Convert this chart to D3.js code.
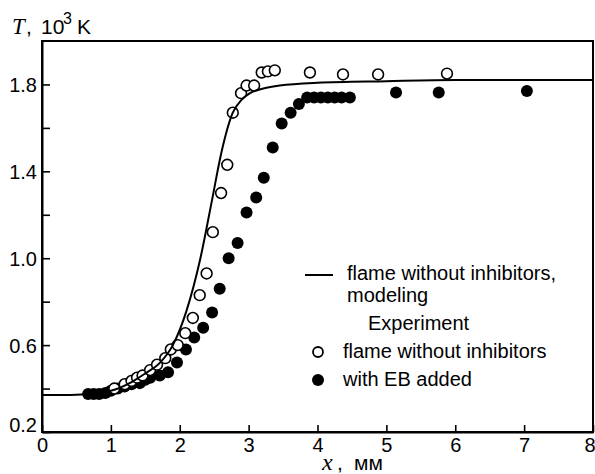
<!DOCTYPE html>
<html>
<head>
<meta charset="utf-8">
<script src="https://cdn.jsdelivr.net/npm/d3@7"></script>
<style>
  body { margin: 0; background: #fff; }
  svg { display: block; }
  text { font-family: 'Liberation Sans', Arial, sans-serif; fill: #000; }
</style>
</head>
<body>
<svg width="595" height="474"></svg>
<script>
// modeling curve, flame without inhibitors
const modelX = [0, 0.5, 1.0, 1.3, 1.5, 1.7, 1.9, 2.1, 2.3, 2.47, 2.6, 2.77, 2.9, 3.02, 3.2, 3.45, 4.0, 5.0, 6.0, 8.0]
const modelT = [0.37, 0.372, 0.39, 0.43, 0.47, 0.515, 0.6, 0.76, 1.0, 1.27, 1.48, 1.67, 1.73, 1.76, 1.78, 1.795, 1.808, 1.815, 1.82, 1.82]

// experiment, flame without inhibitors (open circles)
const openX = [1.05, 1.2, 1.3, 1.38, 1.46, 1.57, 1.67, 1.79, 1.87, 1.97, 2.08, 2.19, 2.29, 2.39, 2.48, 2.6, 2.69, 2.77, 2.89, 2.97, 3.08, 3.19, 3.28, 3.38, 3.89, 4.37, 4.88, 5.88]
const openT = [0.4, 0.42, 0.435, 0.45, 0.46, 0.485, 0.51, 0.54, 0.58, 0.6, 0.655, 0.725, 0.83, 0.93, 1.12, 1.3, 1.43, 1.67, 1.76, 1.795, 1.795, 1.855, 1.86, 1.865, 1.855, 1.846, 1.846, 1.85]

// experiment, with EB added (filled circles)
const ebX = [0.67, 0.75, 0.83, 0.92, 1.0, 1.1, 1.2, 1.3, 1.42, 1.5, 1.57, 1.71, 1.83, 1.96, 2.09, 2.21, 2.34, 2.47, 2.58, 2.71, 2.84, 2.97, 3.11, 3.22, 3.35, 3.48, 3.61, 3.73, 3.85, 3.95, 4.05, 4.15, 4.25, 4.35, 4.47, 5.14, 5.76, 7.04]
const ebT = [0.375, 0.375, 0.375, 0.38, 0.39, 0.4, 0.41, 0.42, 0.425, 0.44, 0.45, 0.46, 0.475, 0.52, 0.58, 0.635, 0.68, 0.75, 0.86, 1.0, 1.07, 1.21, 1.28, 1.37, 1.51, 1.62, 1.67, 1.71, 1.74, 1.74, 1.74, 1.74, 1.74, 1.74, 1.74, 1.763, 1.763, 1.77]

const xTicks = [0, 1, 2, 3, 4, 5, 6, 7, 8]
const yTicks = [0.2, 0.4, 0.6, 0.8, 1.0, 1.2, 1.4, 1.6, 1.8]
const yLabels = ['0.2', '0.6', '1.0', '1.4', '1.8']

const legendItems = [
  ['line', 'flame without inhibitors,', 'modeling'],
  ['title', 'Experiment'],
  ['open', 'flame without inhibitors'],
  ['filled', 'with EB added'],
]

const margin = { top: 41, right: 2, bottom: 42, left: 42 },
  width = 595 - margin.left - margin.right,
  height = 474 - margin.top - margin.bottom

const x = d3.scaleLinear().domain([0, 8]).range([0, width])
const y = d3.scaleLinear().domain([0.2, 2.0]).range([height, 0])

const svg = d3.select('svg')
const g = svg.append('g').attr('transform', `translate(${margin.left},${margin.top})`)

// frame
g.append('rect')
  .attr('width', width)
  .attr('height', height)
  .attr('fill', 'none')
  .attr('stroke', '#000')
  .attr('stroke-width', 2)

const xAxis = d3.axisBottom(x).tickValues(xTicks).tickSizeInner(-7).tickSizeOuter(0).tickPadding(6).tickFormat((d) => d)
const yAxis = d3.axisLeft(y).tickValues(yTicks).tickSizeInner(-8).tickSizeOuter(0).tickPadding(5)
  .tickFormat((d) => { const s = d.toFixed(1); return yLabels.includes(s) ? s : '' })

const gx = g.append('g').attr('transform', `translate(0,${height})`).call(xAxis)
const gy = g.append('g').call(yAxis)
for (const ax of [gx, gy]) {
  ax.select('.domain').attr('stroke-width', 2)
  ax.selectAll('.tick line').attr('stroke-width', 1.6)
  ax.selectAll('.tick text').style('font-size', '20px').style('font-family', "'Liberation Sans', Arial, sans-serif")
}
gx.selectAll('.tick text').attr('dy', '0.72em')
  .attr('text-anchor', (d) => (d === 8 ? 'end' : 'middle'))
  .attr('x', (d) => (d === 8 ? 2 : 0))
gy.selectAll('.tick text').attr('dy', (d) => (d === 0.2 ? '-0.02em' : '0.35em'))

// filled circles
g.selectAll('.eb')
  .data(ebX.map((d, i) => [d, ebT[i]]))
  .enter()
  .append('circle')
  .attr('class', 'eb')
  .attr('cx', (d) => x(d[0]))
  .attr('cy', (d) => y(d[1]))
  .attr('r', 6)
  .attr('fill', '#000')

// open circles
g.selectAll('.open')
  .data(openX.map((d, i) => [d, openT[i]]))
  .enter()
  .append('circle')
  .attr('class', 'open')
  .attr('cx', (d) => x(d[0]))
  .attr('cy', (d) => y(d[1]))
  .attr('r', 5.4)
  .attr('fill', '#fff')
  .attr('stroke', '#000')
  .attr('stroke-width', 1.6)

// model line
const line = d3.line().x((d) => x(d[0])).y((d) => y(d[1])).curve(d3.curveMonotoneX)
g.append('path')
  .datum(modelX.map((d, i) => [d, modelT[i]]))
  .attr('d', line)
  .attr('fill', 'none')
  .attr('stroke', '#000')
  .attr('stroke-width', 2)

// legend
const lg = svg.append('g')
const lgFont = '20px'
lg.append('line').attr('x1', 305).attr('x2', 333).attr('y1', 275).attr('y2', 275).attr('stroke', '#000').attr('stroke-width', 2)
lg.append('text').attr('x', 347).attr('y', 280).style('font-size', lgFont).text(legendItems[0][1])
lg.append('text').attr('x', 347).attr('y', 302).style('font-size', lgFont).text(legendItems[0][2])
lg.append('text').attr('x', 368).attr('y', 330).style('font-size', lgFont).text(legendItems[1][1])
lg.append('circle').attr('cx', 318).attr('cy', 352).attr('r', 5).attr('fill', '#fff').attr('stroke', '#000').attr('stroke-width', 1.8)
lg.append('text').attr('x', 343).attr('y', 358).style('font-size', lgFont).text(legendItems[2][1])
lg.append('circle').attr('cx', 318).attr('cy', 380).attr('r', 6).attr('fill', '#000')
lg.append('text').attr('x', 343).attr('y', 386).style('font-size', lgFont).text(legendItems[3][1])

// axis titles
const serif = "'Liberation Serif', 'DejaVu Serif', serif"
const yTitle = svg.append('text').attr('y', 34).style('font-size', '21px')
yTitle.append('tspan').attr('x', 12).style('font-family', serif).style('font-style', 'italic').style('font-size', '23px').text('T')
yTitle.append('tspan').attr('x', 26).text(',')
yTitle.append('tspan').attr('x', 41).text('10')
yTitle.append('tspan').attr('x', 63).attr('dy', -10).style('font-size', '16px').text('3')
yTitle.append('tspan').attr('x', 77).attr('dy', 10).text('K')

const xTitle = svg.append('text').attr('y', 470).style('font-size', '21px')
xTitle.append('tspan').attr('x', 322).style('font-family', serif).style('font-style', 'italic').style('font-size', '24px').text('x')
xTitle.append('tspan').attr('x', 337).text(',')
xTitle.append('tspan').attr('x', 354).text('мм')
</script>
</body>
</html>
